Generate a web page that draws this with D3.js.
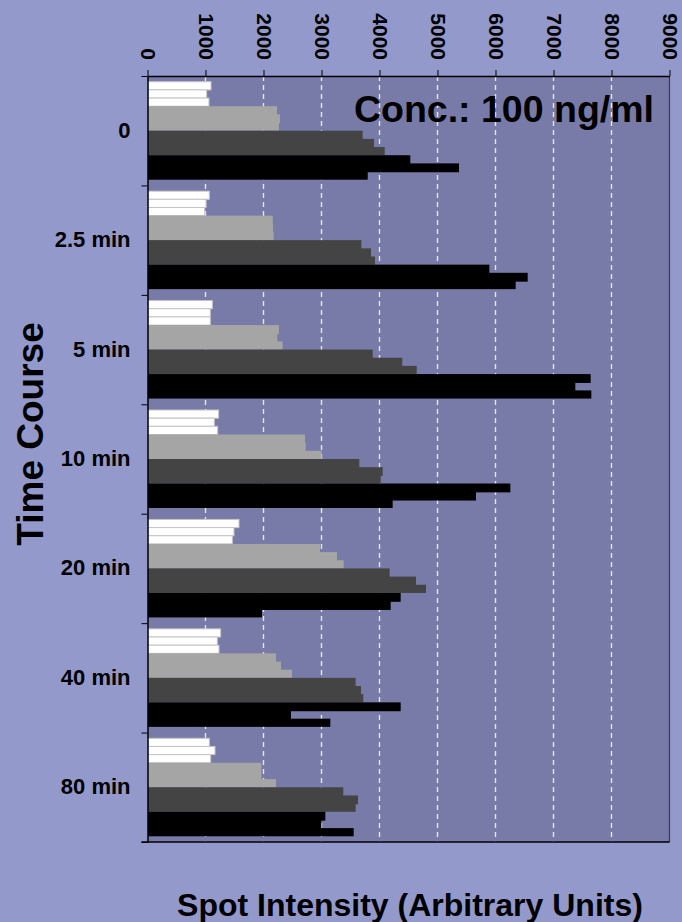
<!DOCTYPE html>
<html>
<head>
<meta charset="utf-8">
<script src="https://cdn.jsdelivr.net/npm/d3@7"></script>
<style>
  body { margin: 0; background: #9399cb; }
  svg { display: block; font-family: "Liberation Sans", Arial, sans-serif; font-weight: bold; }
  .axis text { font-size: 21px; font-weight: bold; fill: #000; }
  .axis--y text { font-size: 22px; }
  .axis path, .axis line { stroke: #000; }
</style>
</head>
<body>
<svg width="682" height="922"></svg>
<script>
/*
Data: 7 time points, 4 shades x 3 bars each.
*/
var groups = ["0", "2.5 min", "5 min", "10 min", "20 min", "40 min", "80 min"];
var xTicks = [0, 1000, 2000, 3000, 4000, 5000, 6000, 7000, 8000, 9000];

var whiteBars = [[1095, 1020, 1060], [1066, 1009, 986], [1118, 1083, 1083], [1227, 1152, 1210],
                 [1578, 1491, 1463], [1261, 1204, 1233], [1066, 1164, 1089]];
var lightBars = [[2233, 2284, 2267], [2160, 2165, 2175], [2267, 2238, 2330], [2716, 2727, 3003],
                 [2974, 3267, 3382], [2216, 2302, 2491], [1963, 1963, 2216]];
var darkBars  = [[3710, 3905, 4090], [3687, 3853, 3922], [3882, 4393, 4641], [3652, 4055, 4021],
                 [4175, 4629, 4802], [3589, 3681, 3721], [3376, 3629, 3589]];
var blackBars = [[4531, 5371, 3797], [5894, 6555, 6348], [7641, 7376, 7652], [6256, 5664, 4227],
                 [4365, 4193, 1974], [4365, 2474, 3152], [3066, 2997, 3555]];

// only the white bars show an outline in the original
var shades = [
    {fill: "#ffffff", stroke: "#c4c4c8", values: whiteBars},
    {fill: "#a5a5a5", stroke: "none", values: lightBars},
    {fill: "#444444", stroke: "none", values: darkBars},
    {fill: "#000000", stroke: "none", values: blackBars}
];

/*
SVG/Group/Margin Declarations
*/
var svg = d3.select("svg"),
    margin = {top: 76, right: 12, bottom: 80, left: 147.5},
    width = 522,
    height = 766,
    g = svg.append("g").attr("transform", "translate(" + margin.left + "," + margin.top + ")");

var xScale = d3.scaleLinear().domain([0, 9000]).range([0, width]),
    yScale = d3.scaleBand().domain(groups).range([0, height]),
    barScale = d3.scaleBand().domain(d3.range(12)).range([0, yScale.bandwidth()]).paddingOuter(0.7),
    edgeScale = d3.scaleLinear().domain([0, groups.length]).range([0, height]);

/*
Flatten into one record per bar
*/
var bars = [];
groups.forEach(function(grp, gi) {
    shades.forEach(function(s, si) {
        s.values[gi].forEach(function(v, k) {
            bars.push({group: grp, slot: si * 3 + k, value: v, fill: s.fill, stroke: s.stroke});
        });
    });
});

// plot background
g.append("rect")
    .attr("width", width)
    .attr("height", height)
    .attr("fill", "#787aa8");

// dashed grid
g.append("g")
    .attr("class", "grid")
    .selectAll("line")
    .data(xTicks.slice(1, -1))
    .enter().append("line")
    .attr("x1", function(d) { return xScale(d); })
    .attr("x2", function(d) { return xScale(d); })
    .attr("y1", 0)
    .attr("y2", height)
    .attr("stroke", "#e4e6f4")
    .attr("stroke-width", 1.4)
    .attr("stroke-dasharray", "5 4");

/*
Bars. Filled-only bars get a small overlap so neighbours of the same
shade merge without an antialiased seam.
*/
g.append("g")
    .selectAll("rect")
    .data(bars)
    .enter().append("rect")
    .attr("x", 0.5)
    .attr("y", function(d) { return yScale(d.group) + barScale(d.slot); })
    .attr("width", function(d) { return xScale(d.value) - 0.5; })
    .attr("height", function(d) {
        var last = d.slot % 3 === 2;
        return barScale.bandwidth() + (d.stroke === "none" && !last ? 0.7 : 0);
    })
    .attr("fill", function(d) { return d.fill; })
    .attr("stroke", function(d) { return d.stroke; })
    .attr("stroke-width", 1);

// right border
g.append("line")
    .attr("x1", width).attr("x2", width)
    .attr("y1", 0).attr("y2", height)
    .attr("stroke", "#3a3a4a")
    .attr("stroke-width", 1.2);

// bottom border
g.append("line")
    .attr("x1", -6).attr("x2", width)
    .attr("y1", height).attr("y2", height)
    .attr("stroke", "#000")
    .attr("stroke-width", 1.5);

/*
Top axis with rotated labels
*/
var xAxis = g.append("g")
    .attr("class", "axis axis--x")
    .call(d3.axisTop(xScale).tickValues(xTicks).tickSize(6).tickSizeOuter(0).tickFormat(d3.format("d")));
xAxis.select(".domain").attr("stroke-width", 1.5);
xAxis.selectAll("text")
    .attr("transform", "rotate(90)")
    .attr("x", -16)
    .attr("y", 0)
    .attr("dy", "0.35em")
    .attr("text-anchor", "end");

/*
Left axis: labels at group centres, ticks on group edges
*/
var yAxis = g.append("g")
    .attr("class", "axis axis--y")
    .call(d3.axisLeft(yScale).tickSize(0).tickPadding(17));
yAxis.select(".domain").attr("stroke-width", 1.5);

g.append("g")
    .attr("class", "axis")
    .call(d3.axisLeft(edgeScale).ticks(groups.length).tickSize(6).tickFormat(""))
    .select(".domain").remove();

/*
Titles
*/
svg.append("text")
    .attr("transform", "translate(43," + 434 + ")rotate(-90)")
    .attr("text-anchor", "middle")
    .style("font-size", "37px")
    .text("Time Course");

svg.append("text")
    .attr("x", 410)
    .attr("y", 916)
    .attr("text-anchor", "middle")
    .style("font-size", "32px")
    .text("Spot Intensity (Arbitrary Units)");

svg.append("text")
    .attr("x", 654)
    .attr("y", 122)
    .attr("text-anchor", "end")
    .style("font-size", "37.5px")
    .text("Conc.: 100 ng/ml");
</script>
</body>
</html>
